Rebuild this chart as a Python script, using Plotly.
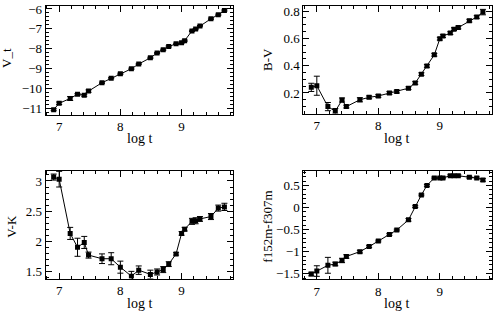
import plotly.graph_objects as go

log_t = [6.91, 7.0, 7.18, 7.3, 7.41, 7.48, 7.7, 7.85, 8.0, 8.18, 8.3, 8.49,
         8.6, 8.7, 8.79, 8.91, 9.0, 9.05, 9.17, 9.23, 9.3, 9.48, 9.6, 9.7]

v_t = [-11.05, -10.73, -10.49, -10.28, -10.33, -10.12, -9.70, -9.47, -9.25, -9.0,
       -8.76, -8.45, -8.21, -8.05, -7.88, -7.75, -7.69, -7.59, -7.10, -7.01,
       -6.86, -6.49, -6.29, -6.08]
v_t_err = [0.05, 0.06, 0.1, 0.04, 0.05, 0.06, 0.03, 0.03, 0.03, 0.03, 0.03, 0.03,
           0.03, 0.03, 0.03, 0.03, 0.03, 0.03, 0.03, 0.03, 0.03, 0.03, 0.03, 0.03]

b_v = [0.241, 0.253, 0.10, 0.066, 0.148, 0.10, 0.15, 0.168, 0.178, 0.20, 0.21, 0.235,
       0.273, 0.338, 0.398, 0.48, 0.598, 0.617, 0.639, 0.668, 0.68, 0.73, 0.757, 0.793]
b_v_err = [0.03, 0.07, 0.03, 0.02, 0.015, 0.01, 0.015, 0.01, 0.01, 0.01, 0.01, 0.01,
           0.01, 0.01, 0.01, 0.01, 0.01, 0.01, 0.01, 0.01, 0.01, 0.01, 0.01, 0.02]

v_k = [3.065, 3.03, 2.13, 1.90, 1.98, 1.77, 1.71, 1.71, 1.57, 1.42, 1.52, 1.45,
       1.49, 1.53, 1.62, 1.79, 2.13, 2.2, 2.33, 2.34, 2.37, 2.41, 2.55, 2.57]
v_k_err = [0.05, 0.13, 0.1, 0.15, 0.1, 0.05, 0.08, 0.1, 0.1, 0.08, 0.07, 0.07,
           0.05, 0.05, 0.04, 0.02, 0.03, 0.03, 0.05, 0.05, 0.04, 0.05, 0.05, 0.06]

f_col = [-1.508, -1.44, -1.31, -1.28, -1.20, -1.11, -1.0, -0.885, -0.76, -0.61, -0.51,
         -0.28, 0.02, 0.285, 0.5, 0.67, 0.67, 0.67, 0.72, 0.72, 0.72, 0.685, 0.67, 0.625]
f_col_err = [0.04, 0.12, 0.18, 0.04, 0.05, 0.04, 0.03, 0.02, 0.02, 0.02, 0.02, 0.03,
             0.02, 0.02, 0.02, 0.02, 0.02, 0.02, 0.02, 0.02, 0.02, 0.02, 0.02, 0.03]

x_ticks = [7, 8, 9]
y_titles = ["V_t", "B-V", "V-K", "f152m-f307m"]

FONT = "Liberation Serif"
panels = [
    dict(y=v_t, e=v_t_err, xd=[0.0927, 0.4726], yd=[0.6378, 0.9936], yr=[-11.31, -5.85],
         dt=1, mdt=0.2),
    dict(y=b_v, e=b_v_err, xd=[0.6152, 0.997], yd=[0.6420, 0.9936], yr=[0.049, 0.838],
         dt=0.2, mdt=0.05),
    dict(y=v_k, e=v_k_err, xd=[0.0927, 0.4726], yd=[0.1026, 0.4551], yr=[1.38, 3.17],
         dt=0.5, mdt=0.1),
    dict(y=f_col, e=f_col_err, xd=[0.6152, 0.997], yd=[0.1003, 0.4551], yr=[-1.627, 0.833],
         dt=0.5, mdt=0.1),
]

fig = go.Figure()
layout = {}
for i, p in enumerate(panels, start=1):
    xa = "x" if i == 1 else f"x{i}"
    ya = "y" if i == 1 else f"y{i}"
    fig.add_trace(go.Scatter(
        x=log_t, y=p["y"], xaxis=xa, yaxis=ya, mode="lines+markers",
        line=dict(color="black", width=1),
        marker=dict(symbol="square", size=5, color="black"),
        error_y=dict(type="data", array=p["e"], visible=True, color="black",
                     thickness=1, width=3),
        showlegend=False,
    ))
    common = dict(showline=True, linecolor="black", linewidth=1, mirror="allticks",
                  ticks="inside", ticklen=6, tickcolor="black", tickwidth=1,
                  showgrid=False, zeroline=False, ticklabeloverflow="allow",
                  tickfont=dict(family=FONT, size=13, color="black"))
    layout["xaxis" if i == 1 else f"xaxis{i}"] = dict(
        domain=p["xd"], range=[6.78, 9.84], anchor=ya, tickmode="array",
        tickvals=x_ticks, ticktext=[str(v) for v in x_ticks],
        minor=dict(ticks="inside", ticklen=3, dtick=0.2, tick0=7, tickcolor="black"),
        **common)
    layout["yaxis" if i == 1 else f"yaxis{i}"] = dict(
        domain=p["yd"], range=p["yr"], anchor=xa, dtick=p["dt"], tick0=0,
        minor=dict(ticks="inside", ticklen=3, dtick=p["mdt"], tick0=0, tickcolor="black"),
        **common)

annots = []
xcenters = [139, 396, 139, 396]
xbottoms = [137, 137, 305, 305]
ytitle_x = [7, 268, 12, 268]
ytitle_y = [55, 57, 227, 227]
for i in range(4):
    annots.append(dict(text="log t", x=xcenters[i] / 493, y=1 - xbottoms[i] / 312,
                       xref="paper", yref="paper", showarrow=False,
                       xanchor="center", yanchor="middle",
                       font=dict(family=FONT, size=14, color="black")))
    annots.append(dict(text=y_titles[i], x=ytitle_x[i] / 493, y=1 - ytitle_y[i] / 312,
                       xref="paper", yref="paper", showarrow=False, textangle=-90,
                       xanchor="center", yanchor="middle",
                       font=dict(family=FONT, size=13, color="black")))

fig.update_layout(width=493, height=312, margin=dict(l=0, r=0, t=0, b=0),
                  paper_bgcolor="white", plot_bgcolor="white",
                  annotations=annots, **layout)
fig.write_html("out.html", config={"displayModeBar": False},
               post_script="document.body.style.margin='0';document.body.style.padding='0';")
